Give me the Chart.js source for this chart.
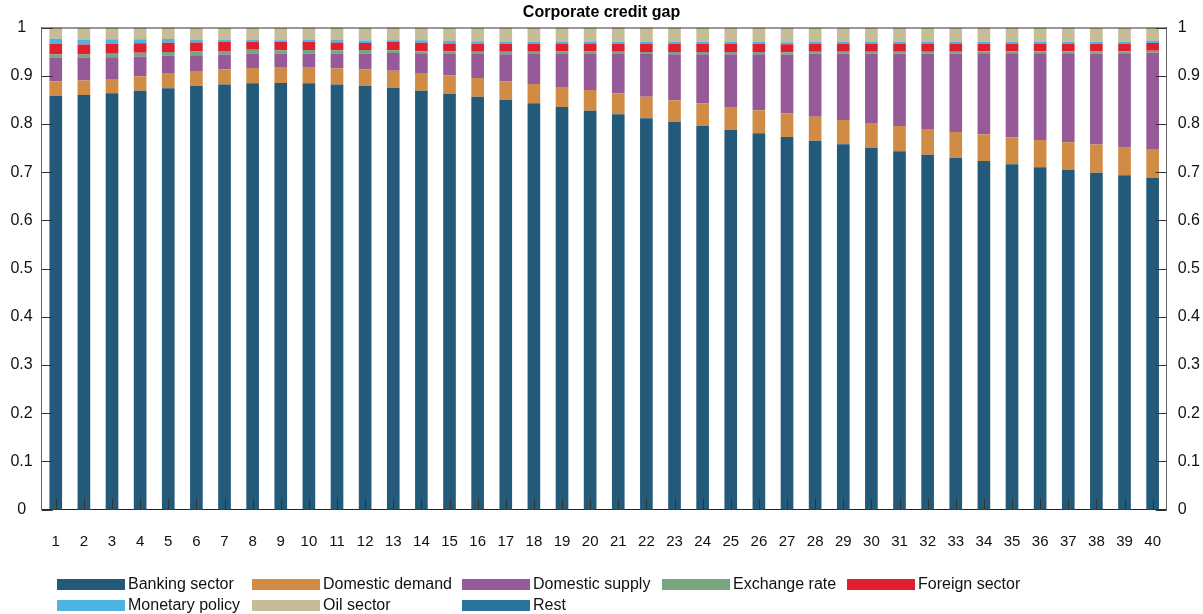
<!DOCTYPE html>
<html>
<head>
<meta charset="utf-8">
<script src="https://cdn.jsdelivr.net/npm/chart.js@4.4.1/dist/chart.umd.min.js"></script>
<style>
  html, body { margin: 0; padding: 0; background: #fff; }
  #wrap { position: relative; width: 1203px; height: 614px; }
  #c { position: absolute; left: 0; top: 0; }
  #legend { position: absolute; left: 57px; top: 574px; display: grid;
    grid-template-columns: 195px 210px 200px 185px auto; row-gap: 1px;
    font-family: "Liberation Sans", Arial, sans-serif; font-size: 16px; color: #111; }
  .item { display: flex; align-items: center; height: 20px; white-space: nowrap; }
  .sw { width: 68px; height: 11px; margin-right: 3px; }
</style>
</head>
<body>
<div id="wrap">
  <canvas id="c" width="1203" height="614"></canvas>
  <div id="legend"></div>
</div>
<script>
const categories = Array.from({length: 40}, (_, i) => String(i + 1));
const yTickValues = [0, 0.1, 0.2, 0.3, 0.4, 0.5, 0.6, 0.7, 0.8, 0.9, 1];

const bankingSector = [0.8586,0.860,0.8634,0.869,0.8738,0.8786,0.882,0.8842,0.8849,0.8842,
  0.882,0.8786,0.8752,0.8689,0.8627,0.8564,0.850,0.8427,0.835,0.8274,
  0.820,0.8118,0.8043,0.7963,0.788,0.7805,0.7728,0.7651,0.7577,0.750,
  0.7432,0.7361,0.7293,0.723,0.7162,0.710,0.7044,0.6988,0.6934,0.6878];
const domesticDemand = [0.030,0.030,0.030,0.030,0.032,0.031,0.031,0.032,0.033,0.034,
  0.033,0.035,0.035,0.0367,0.038,0.0387,0.0387,0.040,0.0415,0.0429,
  0.0436,0.0445,0.045,0.0465,0.047,0.048,0.049,0.0498,0.0504,0.0519,
  0.0525,0.0533,0.054,0.0554,0.056,0.0566,0.0575,0.0585,0.0587,0.060];
const domesticSupply = [0.049,0.048,0.045,0.041,0.036,0.033,0.031,0.030,0.028,0.028,
  0.031,0.0325,0.037,0.0394,0.0443,0.0498,0.056,0.0622,0.0685,0.0747,
  0.0814,0.0885,0.0954,0.1017,0.1095,0.116,0.1224,0.1307,0.1376,0.1438,
  0.150,0.1562,0.1624,0.168,0.1743,0.180,0.1846,0.1888,0.1944,0.200];
const exchangeRate = [0.007,0.006,0.007,0.0075,0.0075,0.0075,0.0075,0.0075,0.007,0.007,
  0.007,0.007,0.0055,0.006,0.005,0.005,0.005,0.005,0.005,0.005,
  0.0045,0.0045,0.0045,0.0045,0.0045,0.0045,0.0045,0.0042,0.0042,0.0042,
  0.0042,0.0042,0.0042,0.0042,0.0042,0.0042,0.0042,0.0042,0.0042,0.0042];
const foreignSector = [0.021,0.021,0.021,0.020,0.019,0.019,0.019,0.017,0.017,0.017,
  0.016,0.015,0.017,0.0175,0.0166,0.0166,0.0166,0.0166,0.0166,0.0166,
  0.0166,0.0166,0.0166,0.0166,0.0166,0.0166,0.0166,0.0158,0.0158,0.0158,
  0.0158,0.0158,0.0158,0.0158,0.0158,0.0158,0.0158,0.0158,0.0158,0.0158];
const monetaryPolicy = [0.011,0.010,0.009,0.008,0.0076,0.0055,0.004,0.004,0.0035,0.004,
  0.005,0.005,0.004,0.005,0.0055,0.005,0.0048,0.004,0.0035,0.0035,
  0.0042,0.0042,0.0042,0.0042,0.0042,0.0042,0.0042,0.0042,0.0042,0.0042,
  0.0042,0.0042,0.0042,0.0042,0.0042,0.0042,0.0042,0.0042,0.0042,0.0042];
const oilSector = [0.024,0.0245,0.0245,0.0245,0.024,0.0245,0.0245,0.025,0.026,0.026,
  0.026,0.0266,0.027,0.026,0.027,0.028,0.029,0.029,0.030,0.030,
  0.030,0.030,0.030,0.030,0.030,0.030,0.030,0.0295,0.0295,0.0295,
  0.0295,0.0295,0.0295,0.0295,0.0295,0.0295,0.0295,0.0285,0.0285,0.028];
const rest = [0,0,0,0,0,0,0,0,0,0,0,0,0,0,0,0,0,0,0,0,
  0,0,0,0,0,0,0,0,0,0,0,0,0,0,0,0,0,0,0,0];

const seriesNames = ["Banking sector","Domestic demand","Domestic supply","Exchange rate",
  "Foreign sector","Monetary policy","Oil sector","Rest"];
const seriesColors = ["#235a7a","#d08b45","#955a97","#77a67e","#e0202f","#4db3e1","#c7bc98","#2a7399"];
const seriesData = [bankingSector, domesticDemand, domesticSupply, exchangeRate,
  foreignSector, monetaryPolicy, oilSector, rest];

const FONT = "'Liberation Sans', Arial, sans-serif";

const inwardTicks = {
  id: 'inwardTicks',
  afterDatasetsDraw(chart) {
    const {ctx, chartArea: a, scales} = chart;
    ctx.save();
    ctx.strokeStyle = '#333';
    ctx.lineWidth = 1;
    ctx.beginPath();
    ctx.moveTo(a.left, a.top + 0.5); ctx.lineTo(a.right, a.top + 0.5);
    scales.y.ticks.forEach((t, i) => {
      const py = Math.round(scales.y.getPixelForTick(i)) + 0.5;
      ctx.moveTo(a.left, py); ctx.lineTo(a.left + 11, py);
    });
    scales.y2.ticks.forEach((t, i) => {
      const py = Math.round(scales.y2.getPixelForTick(i)) + 0.5;
      ctx.moveTo(a.right, py); ctx.lineTo(a.right - 11, py);
    });
    scales.x.ticks.forEach((t, i) => {
      const px = Math.round(scales.x.getPixelForTick(i)) + 0.5;
      ctx.moveTo(px, a.bottom); ctx.lineTo(px, a.bottom - 11);
    });
    ctx.stroke();
    ctx.restore();
  }
};

const chart = new Chart(document.getElementById('c'), {
  type: 'bar',
  data: {
    labels: categories,
    datasets: seriesNames.map((n, i) => ({
      label: n, data: seriesData[i], backgroundColor: seriesColors[i],
      borderWidth: 0, categoryPercentage: 1, barPercentage: 0.45, yAxisID: 'y'
    }))
  },
  options: {
    responsive: false, animation: false,
    layout: { padding: { left: 0, right: 0, top: 0, bottom: 0 } },
    plugins: {
      legend: { display: false },
      tooltip: { enabled: false },
      title: { display: true, text: 'Corporate credit gap', color: '#000',
        font: { family: FONT, size: 16, weight: 'bold' }, padding: { top: 3, bottom: 5.3 } }
    },
    scales: {
      x: {
        stacked: true,
        grid: { display: false, drawTicks: false },
        border: { color: '#222', width: 1 },
        ticks: { color: '#111', font: { family: FONT, size: 15 }, padding: 23, maxRotation: 0, autoSkip: false },
        afterFit(s) { s.height = 104.3; }
      },
      y: {
        stacked: true, min: 0, max: 1, position: 'left',
        afterBuildTicks(s) { s.ticks = yTickValues.map(v => ({value: v})); },
        grid: { display: false, drawTicks: false },
        border: { color: '#666', width: 1 },
        ticks: { color: '#111', font: { family: FONT, size: 16 }, padding: 9, crossAlign: 'center',
          callback: v => String(Math.round(v * 10) / 10) },
        afterFit(s) { s.width = 41.7; }
      },
      y2: {
        min: 0, max: 1, position: 'right',
        afterBuildTicks(s) { s.ticks = yTickValues.map(v => ({value: v})); },
        grid: { display: false, drawTicks: false },
        border: { color: '#666', width: 1 },
        ticks: { color: '#111', font: { family: FONT, size: 16 }, padding: 11,
          callback: v => String(Math.round(v * 10) / 10) },
        afterFit(s) { s.width = 36.3; }
      }
    }
  },
  plugins: [inwardTicks]
});

const leg = document.getElementById('legend');
chart.data.datasets.forEach(ds => {
  const d = document.createElement('div'); d.className = 'item';
  const sw = document.createElement('span'); sw.className = 'sw'; sw.style.background = ds.backgroundColor;
  const tx = document.createElement('span'); tx.textContent = ds.label;
  d.appendChild(sw); d.appendChild(tx); leg.appendChild(d);
});
</script>
</body>
</html>
